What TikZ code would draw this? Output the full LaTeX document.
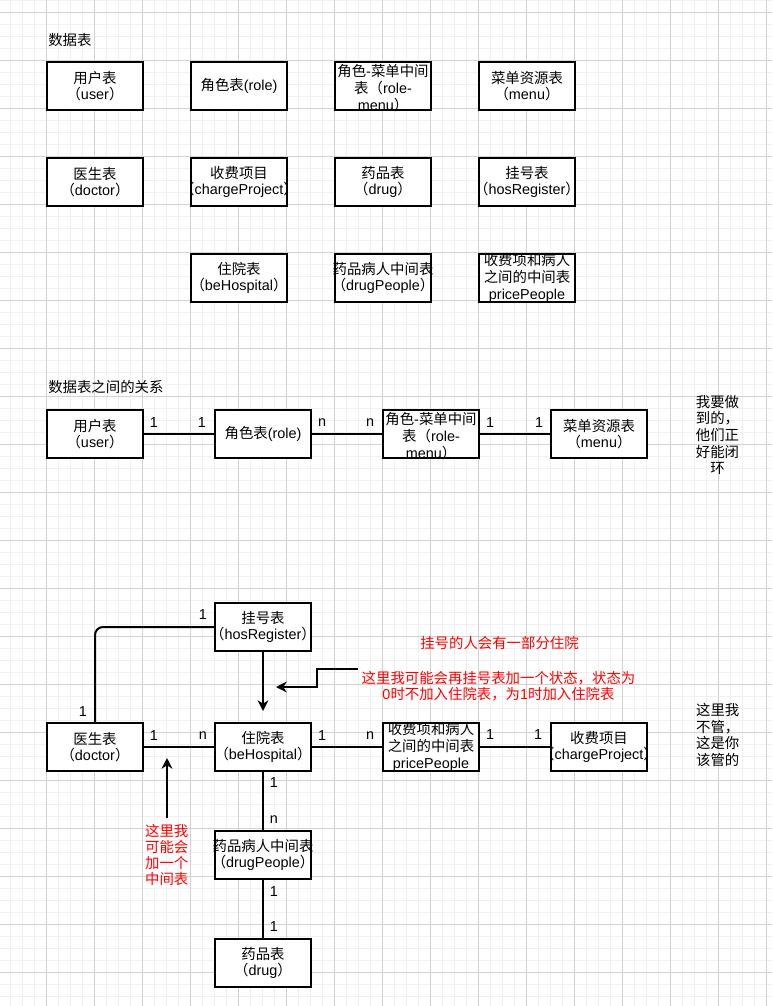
\documentclass[tikz,border=0pt]{standalone}
\usepackage{fontspec}
\setmainfont{Liberation Sans}
\newfontfamily\zh{Noto Sans CJK SC}
\usetikzlibrary{arrows.meta}
\definecolor{gridminor}{RGB}{240,240,240}
\definecolor{gridmajor}{RGB}{210,210,210}
\definecolor{notered}{RGB}{255,0,0}
\begin{document}
\begin{tikzpicture}[x=0.75pt,y=-0.75pt,
  tbl/.style={draw=black, line width=1.5pt, fill=white, minimum width=72pt, minimum height=36pt, inner sep=0pt},
  txt/.style={align=center, inner sep=0pt, font=\fontsize{10.8pt}{12.5pt}\selectfont},
  conn/.style={line width=1.5pt},
  lbl/.style={inner sep=0pt, font=\fontsize{10.8pt}{12pt}\selectfont},
  arr/.style={line width=1.5pt, -{Stealth[length=8pt,width=8pt,inset=2.5pt]}},
  note/.style={txt, text=notered, font=\fontsize{10.8pt}{12pt}\selectfont}]
\useasboundingbox (0,0) rectangle (772,1006);
\fill[white] (0,0) rectangle (772,1006);
% grid
\foreach \i in {0,...,65} \draw[gridminor, line width=0.75pt] ({-1.3+12*\i},0) -- ++(0,1006);
\foreach \i in {0,...,84} \draw[gridminor, line width=0.75pt] (0,{0.3+12*\i}) -- ++(772,0);
\foreach \i in {0,...,16} \draw[gridmajor, line width=0.75pt] ({-1.3+48*\i},0) -- ++(0,1006);
\foreach \i in {0,...,20} \draw[gridmajor, line width=0.75pt] (0,{12.3+48*\i}) -- ++(772,0);

% ---------- section 1 ----------
\node[txt, anchor=west] (title1) at (48,40) {\zh 数据表};

\node[tbl] (user) at (95,86) {};
\node[txt] (user-t) at (user) {{\zh 用户表}\\{\zh （}user{\zh ）}};
\node[tbl] (role) at (239,86) {};
\node[txt] (role-t) at (role) {{\zh 角色表}(role)};
\node[tbl] (rolemenu) at (383,86) {};
\node[txt] (rolemenu-t) at (383,88) {{\zh 角色}-{\zh 菜单中间}\\{\zh 表（}role-\\menu{\zh ）}};
\node[tbl] (menu) at (527,86) {};
\node[txt] (menu-t) at (menu) {{\zh 菜单资源表}\\{\zh （}menu{\zh ）}};

\node[tbl] (doctor) at (95,182) {};
\node[txt] (doctor-t) at (doctor) {{\zh 医生表}\\{\zh （}doctor{\zh ）}};
\node[tbl] (charge) at (239,182) {};
\node[txt] (charge-t) at (charge) {{\zh 收费项目}\\{\zh （}chargeProject{\zh ）}};
\node[tbl] (drug) at (383,182) {};
\node[txt] (drug-t) at (drug) {{\zh 药品表}\\{\zh （}drug{\zh ）}};
\node[tbl] (hosreg) at (527,182) {};
\node[txt] (hosreg-t) at (hosreg) {{\zh 挂号表}\\{\zh （}hosRegister{\zh ）}};

\node[tbl] (behosp) at (239,278) {};
\node[txt] (behosp-t) at (behosp) {{\zh 住院表}\\{\zh （}beHospital{\zh ）}};
\node[tbl] (drugppl) at (383,278) {};
\node[txt] (drugppl-t) at (drugppl) {{\zh 药品病人中间表}\\{\zh （}drugPeople{\zh ）}};
\node[tbl] (priceppl) at (527,278) {};
\node[txt] (priceppl-t) at (priceppl) {{\zh 收费项和病人}\\{\zh 之间的中间表}\\pricePeople};

% ---------- section 2 ----------
\node[txt, anchor=west] (title2) at (48,387) {\zh 数据表之间的关系};

\node[tbl] (user2) at (95,434) {};
\node[txt] (user2-t) at (user2) {{\zh 用户表}\\{\zh （}user{\zh ）}};
\node[tbl] (role2) at (263,434) {};
\node[txt] (role2-t) at (role2) {{\zh 角色表}(role)};
\node[tbl] (rm2) at (431,434) {};
\node[txt] (rm2-t) at (431,436) {{\zh 角色}-{\zh 菜单中间}\\{\zh 表（}role-\\menu{\zh ）}};
\node[tbl] (menu2) at (599,434) {};
\node[txt] (menu2-t) at (menu2) {{\zh 菜单资源表}\\{\zh （}menu{\zh ）}};

\draw[conn] (user2.east) -- (role2.west);
\draw[conn] (role2.east) -- (rm2.west);
\draw[conn] (rm2.east) -- (menu2.west);

\node[lbl] (l21) at (154,423) {1};
\node[lbl] (l22) at (202,423) {1};
\node[lbl] (l23) at (322,423) {n};
\node[lbl] (l24) at (370,423) {n};
\node[lbl] (l25) at (490,423) {1};
\node[lbl] (l26) at (539,423) {1};

\node[txt] (note2) at (717.5,435) {\zh 我要做\\\zh 到的，\\\zh 他们正\\\zh 好能闭\\\zh 环};

% ---------- section 3 ----------
\node[tbl] (hosreg3) at (263,627) {};
\node[txt] (hosreg3-t) at (hosreg3) {{\zh 挂号表}\\{\zh （}hosRegister{\zh ）}};
\node[tbl] (doctor3) at (95,747) {};
\node[txt] (doctor3-t) at (doctor3) {{\zh 医生表}\\{\zh （}doctor{\zh ）}};
\node[tbl] (behosp3) at (263,747) {};
\node[txt] (behosp3-t) at (behosp3) {{\zh 住院表}\\{\zh （}beHospital{\zh ）}};
\node[tbl] (price3) at (431,747) {};
\node[txt] (price3-t) at (price3) {{\zh 收费项和病人}\\{\zh 之间的中间表}\\pricePeople};
\node[tbl] (charge3) at (599,747) {};
\node[txt] (charge3-t) at (charge3) {{\zh 收费项目}\\{\zh （}chargeProject{\zh ）}};
\node[tbl] (drugppl3) at (263,855) {};
\node[txt] (drugppl3-t) at (drugppl3) {{\zh 药品病人中间表}\\{\zh （}drugPeople{\zh ）}};
\node[tbl] (drug3) at (263,963) {};
\node[txt] (drug3-t) at (drug3) {{\zh 药品表}\\{\zh （}drug{\zh ）}};

\draw[conn, rounded corners=6pt] (hosreg3.west) -| (doctor3.north);
\coordinate (hosend) at (263,711);
\draw[arr] (hosreg3.south) -- (hosend);
\draw[conn] (doctor3.east) -- (behosp3.west);
\draw[conn] (behosp3.east) -- (price3.west);
\draw[conn] (price3.east) -- (charge3.west);
\draw[conn] (behosp3.south) -- (drugppl3.north);
\draw[conn] (drugppl3.south) -- (drug3.north);

\node[lbl] (l31) at (203,615) {1};
\node[lbl] (l32) at (83,712) {1};
\node[lbl] (l33) at (154,736) {1};
\node[lbl] (l34) at (203,736) {n};
\node[lbl] (l35) at (322,736) {1};
\node[lbl] (l36) at (370,736) {n};
\node[lbl] (l37) at (490,735) {1};
\node[lbl] (l38) at (538,735) {1};
\node[lbl] (l39) at (274,783) {1};
\node[lbl] (l40) at (274,820) {n};
\node[lbl] (l41) at (274,892) {1};
\node[lbl] (l42) at (274,927) {1};

% notes
\node[note] (note31) at (499.5,643) {\zh 挂号的人会有一部分住院};
\node[note] (note32) at (498.5,686) {\zh 这里我可能会再挂号表加一个状态，状态为\\0{\zh 时不加入住院表，为}1{\zh 时加入住院表}};
\coordinate (note32src) at (358,669);
\coordinate (note32tip) at (276,687);
\draw[arr] (note32src) -- (317,669) -- (317,687) -- (note32tip);

\node[note] (note33) at (166.7,854.5) {\zh 这里我\\\zh 可能会\\\zh 加一个\\\zh 中间表};
\coordinate (note33tail) at (167,818);
\coordinate (note33tip) at (167,758);
\draw[arr] (note33tail) -- (note33tip);

\node[txt] (note34) at (717.7,735) {\zh 这里我\\\zh 不管，\\\zh 这是你\\\zh 该管的};
\end{tikzpicture}
\end{document}
